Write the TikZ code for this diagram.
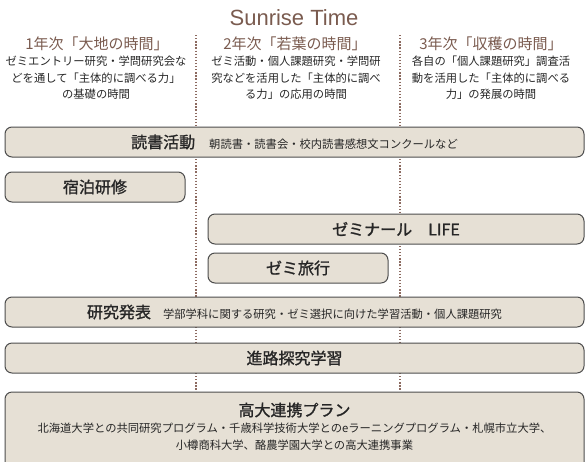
\documentclass[tikz,border=0pt]{standalone}
\usepackage{fontspec}
\setmainfont{Noto Sans CJK JP}
\newfontfamily\medfont{Noto Sans CJK JP}[FakeBold=1.3]
\newfontfamily\titlefont{Liberation Sans}
\definecolor{brownt}{HTML}{7A5B4F}
\definecolor{boxfill}{HTML}{E6E0D5}
\definecolor{boxline}{HTML}{4D4D4D}
\definecolor{dotc}{HTML}{8C6A60}
\newcommand\bxtitle[1]{{\medfont\fontsize{16}{18}\selectfont #1}}
\newcommand\bxsub[1]{{\fontsize{11.3}{13}\selectfont #1}}
\begin{document}
\begin{tikzpicture}[x=1pt,y=-1pt,
  box/.style={draw=boxline, fill=boxfill, rounded corners=7pt, line width=1pt, inner sep=0pt, text=black!85},
  yearhead/.style={text=brownt, font=\fontsize{15}{17}\selectfont, inner sep=0pt},
  yeardesc/.style={text=black!85, font=\fontsize{11.3}{16.5}\selectfont, align=center, inner sep=0pt},
  dotline/.style={draw=dotc, line width=1.3pt, dash pattern=on 1.3pt off 1.8pt},
  plain/.style={inner sep=0pt, text=black!85}
]
\useasboundingbox (0,0) rectangle (588,461);
\begin{scope}
\clip (0,0) rectangle (588,461);
% title
\node[text=brownt, font=\titlefont\fontsize{22}{24}\selectfont, inner sep=0pt] (title) at (294,18) {Sunrise Time};
% year headers
\node[yearhead] (h1) at (97,44) {1年次「大地の時間」};
\node[yearhead] (h2) at (295,44) {2年次「若葉の時間」};
\node[yearhead] (h3) at (491,44) {3年次「収穫の時間」};
\node[yeardesc] (d1) at (96,78) {ゼミエントリー研究・学問研究会な\\どを通して「主体的に調べる力」\\の基礎の時間};
\node[yeardesc] (d2) at (296,78) {ゼミ活動・個人課題研究・学問研\\究などを活用した「主体的に調べ\\る力」の応用の時間};
\node[yeardesc] (d3) at (491,78) {各自の「個人課題研究」調査活\\動を活用した「主体的に調べる\\力」の発展の時間};
% dotted separators
\coordinate (s1top) at (196,35);
\coordinate (s1bot) at (196,392);
\coordinate (s2top) at (400,35);
\coordinate (s2bot) at (400,392);
\draw[dotline] (s1top) -- (s1bot);
\draw[dotline] (s2top) -- (s2bot);
% boxes
\node[box, minimum width=579pt, minimum height=30pt] (reading) at (294.5,142)
  {\bxtitle{読書活動}\hspace{14pt}\bxsub{朝読書・読書会・校内読書感想文コンクールなど}};
\node[box, minimum width=180pt, minimum height=30pt] (stay) at (95,187) {\bxtitle{宿泊研修}};
\node[box, minimum width=376pt, minimum height=30pt] (seminar) at (396,229) {\bxtitle{ゼミナール\hspace{16pt}LIFE}};
\node[box, minimum width=180pt, minimum height=30pt] (trip) at (298,268) {\bxtitle{ゼミ旅行}};
\node[box, minimum width=579pt, minimum height=30pt] (present) at (294.5,312)
  {\bxtitle{研究発表}\hspace{12pt}\bxsub{学部学科に関する研究・ゼミ選択に向けた学習活動・個人課題研究}};
\node[box, minimum width=579pt, minimum height=30pt] (career) at (294.5,358) {\bxtitle{進路探究学習}};
\node[box, minimum width=579pt, minimum height=90pt] (koudai) at (294.5,437) {};
\node[plain] (koudaititle) at (294.5,410) {\bxtitle{高大連携プラン}};
\node[plain, font=\fontsize{11.3}{17}\selectfont, align=center] (koudaidesc) at (294.5,437)
  {北海道大学との共同研究プログラム・千歳科学技術大学とのeラーニングプログラム・札幌市立大学、\\小樽商科大学、酪農学園大学との高大連携事業};
\end{scope}
\end{tikzpicture}
\end{document}
